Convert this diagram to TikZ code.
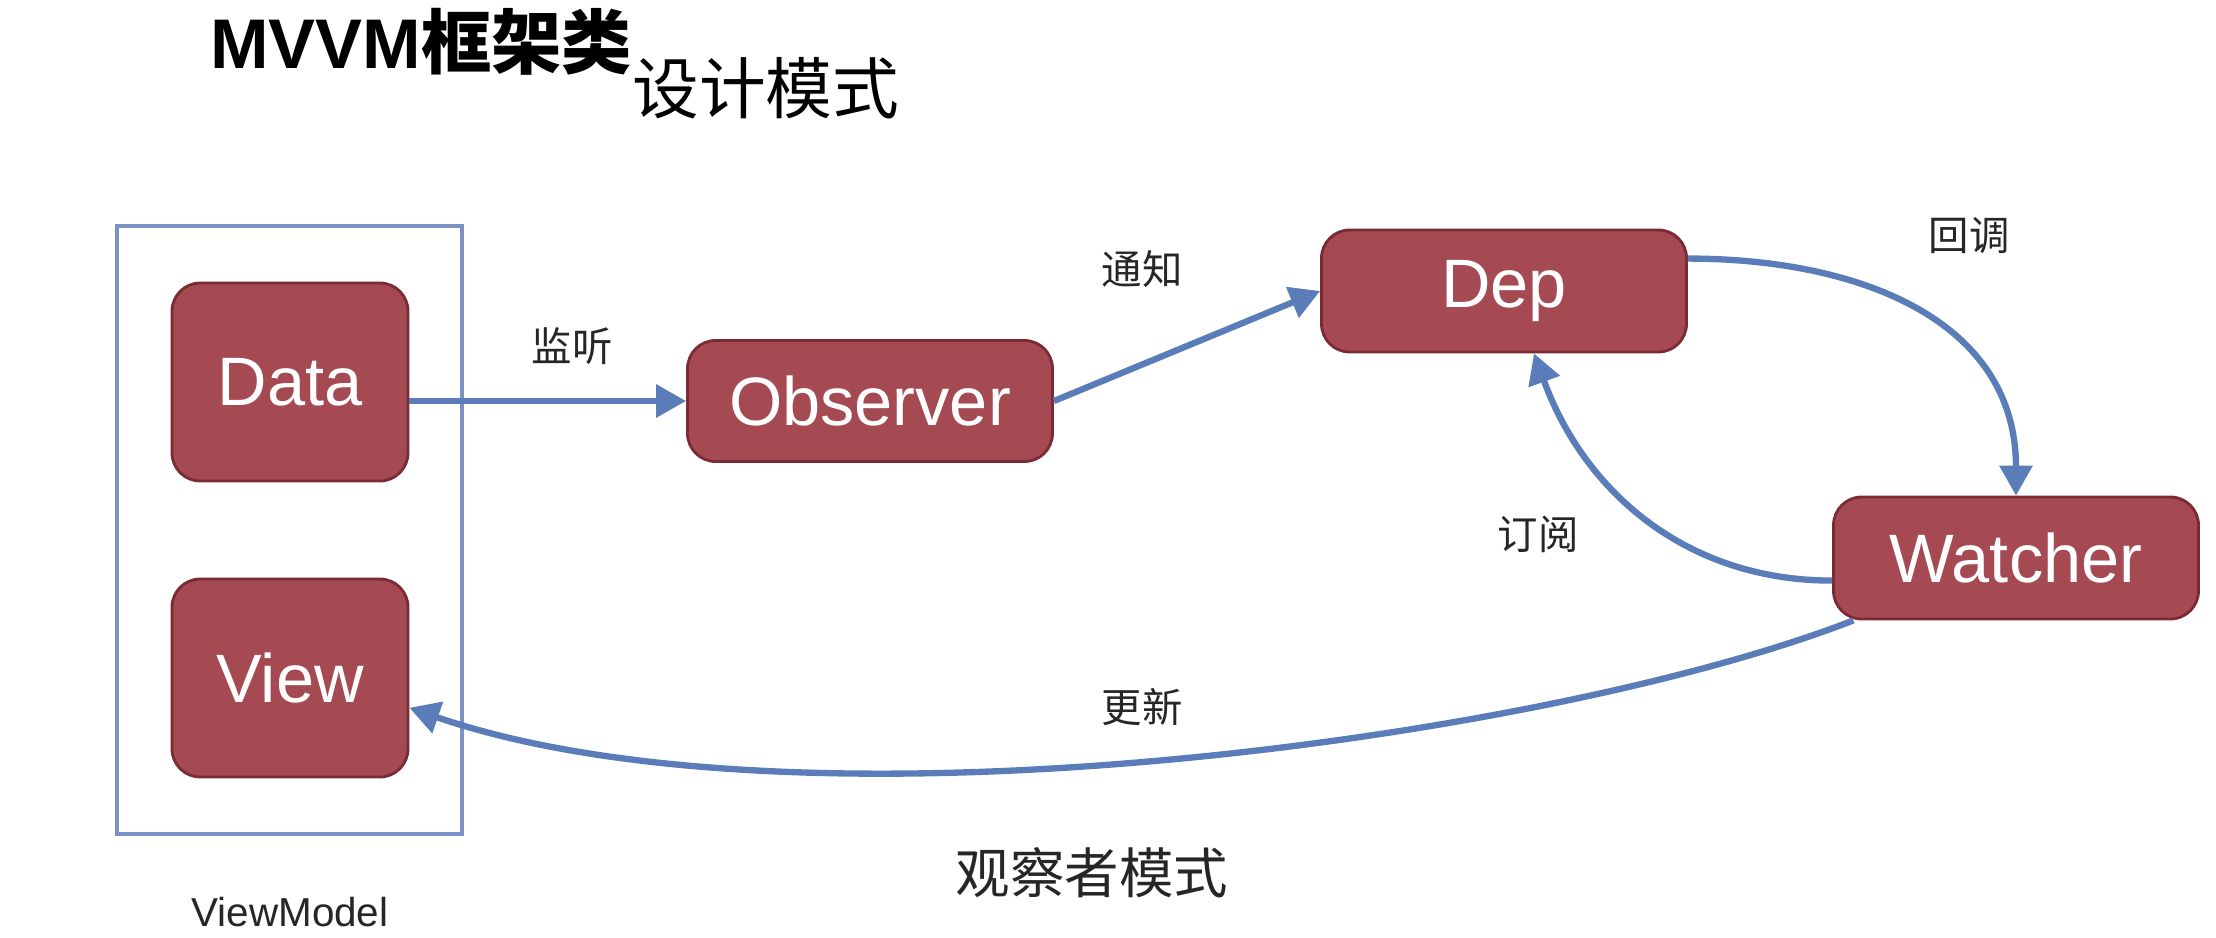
\documentclass[tikz,border=0pt]{standalone}
\usepackage{fontspec}
\setmainfont{Liberation Sans}
\newfontfamily\cjk{Noto Sans CJK SC}
\usetikzlibrary{arrows.meta, positioning, calc}
\definecolor{BoxRed}{rgb}{0.647, 0.290, 0.322}
\definecolor{BoxEdge}{rgb}{0.48, 0.17, 0.20}
\definecolor{FlowBlue}{rgb}{0.353, 0.490, 0.729}
\definecolor{FrameBlue}{rgb}{0.49, 0.57, 0.78}

\begin{document}
\begin{tikzpicture}[
    flow/.style={-{Triangle[length=3mm, width=3.2mm]}, line width=1.8pt, FlowBlue},
    blk/.style={draw=BoxEdge, thick, rounded corners=8pt, fill=BoxRed, text=white,
        minimum width=3.65cm, minimum height=1.21cm, font=\fontsize{19.5}{22}\selectfont},
    vmbox/.style={blk, minimum width=2.36cm, minimum height=1.98cm},
    lbl/.style={font=\cjk\fontsize{11.5}{14}\selectfont, text=black!85},
]
\fill[white] (0,0) rectangle (22.16,-9.38);
\useasboundingbox (0,0) rectangle (22.16,-9.38);

% titulo
\node[anchor=base west, font=\bfseries\fontsize{20}{24}\selectfont] (title) at (1.98,-0.69)
    {MVVM{\cjk\bfseries 框架类}};
\node[anchor=base west, font=\cjk\fontsize{19}{22}\selectfont] (pattern) at (6.20,-1.13) {设计模式};

% ================= ViewModel =================
\node[draw=FrameBlue, line width=0.9pt, minimum width=3.45cm, minimum height=6.08cm] (vm) at (2.895,-5.30) {};
\node[vmbox] (data) at (2.90,-3.82) {Data};
\node[vmbox] (view) at (2.90,-6.78) {View};
\node[font=\fontsize{11.5}{14}\selectfont, text=black!85] (vmlbl) at (2.90,-9.12) {ViewModel};

% ================= observador =================
\node[blk] (observer) at (8.70,-4.01) {Observer};
\node[blk, minimum height=1.22cm] (dep) at (15.04,-2.91) {Dep};
\node[blk, minimum height=1.22cm] (watcher) at (20.16,-5.58) {Watcher};

\draw[flow] (data.east |- observer.west) -- (observer.west);
\draw[flow] (observer.east) -- (dep.west);
\draw[flow] (dep.10) to[out=0, in=90, looseness=1.1] (watcher.north);
\draw[flow] (watcher.187) to[out=180, in=-70] ([xshift=3mm]dep.south);
\draw[flow] (watcher.201) .. controls +(-3.08,-1.2) and +(3.87,-1.33) .. (view.-14);

% etiquetas
\node[lbl] (listen) at (5.72,-3.46) {监听};
\node[lbl] (notify) at (11.42,-2.69) {通知};
\node[lbl] (callback) at (19.69,-2.36) {回调};
\node[lbl] (subscribe) at (15.38,-5.34) {订阅};
\node[lbl] (update) at (11.42,-7.07) {更新};
\node[font=\cjk\fontsize{15.5}{18}\selectfont, text=black!85] (observerpat) at (10.92,-8.73) {观察者模式};

\end{tikzpicture}
\end{document}
